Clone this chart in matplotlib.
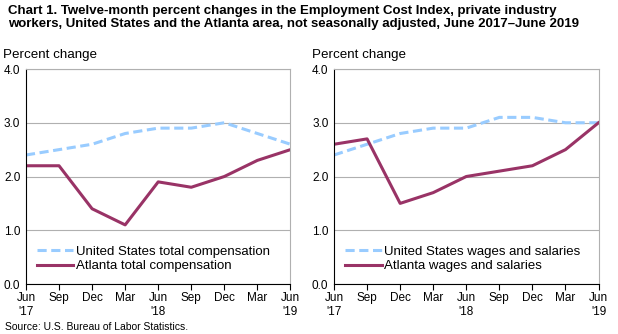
import matplotlib
matplotlib.use("Agg")
import matplotlib.pyplot as plt

plt.rcParams['font.family'] = ['Liberation Sans', 'DejaVu Sans']

quarters = ['Jun\n\'17', 'Sep', 'Dec', 'Mar', 'Jun\n\'18', 'Sep', 'Dec', 'Mar', 'Jun\n\'19']
us_total = [2.4, 2.5, 2.6, 2.8, 2.9, 2.9, 3.0, 2.8, 2.6]
atl_total = [2.2, 2.2, 1.4, 1.1, 1.9, 1.8, 2.0, 2.3, 2.5]
us_wages = [2.4, 2.6, 2.8, 2.9, 2.9, 3.1, 3.1, 3.0, 3.0]
atl_wages = [2.6, 2.7, 1.5, 1.7, 2.0, 2.1, 2.2, 2.5, 3.0]

blue = '#99ccff'
maroon = '#993366'

fig = plt.figure(figsize=(6.18, 3.34), dpi=100)
fig.text(0.013, 0.985, 'Chart 1. Twelve-month percent changes in the Employment Cost Index, private industry\n'
         'workers, United States and the Atlanta area, not seasonally adjusted, June 2017\u2013June 2019',
         fontsize=9.5, fontweight='bold', va='top', linespacing=1.15)

panels = [
    (0.042, us_total, atl_total, 'United States total compensation', 'Atlanta total compensation'),
    (0.5405, us_wages, atl_wages, 'United States wages and salaries', 'Atlanta wages and salaries'),
]
x = list(range(len(quarters)))
for left, us, atl, lab1, lab2 in panels:
    ax = fig.add_axes([left, 0.1497, 0.428, 0.6437])
    ax.plot(x, us, color=blue, lw=2.2, ls=(0, (3, 1.5)), label=lab1)
    ax.plot(x, atl, color=maroon, lw=2.2, label=lab2)
    ax.set_xlim(0, 8)
    ax.set_ylim(0, 4)
    ax.set_yticks([0, 1, 2, 3, 4])
    ax.set_yticklabels(['0.0', '1.0', '2.0', '3.0', '4.0'])
    ax.set_xticks(x)
    ax.set_xticklabels(quarters, fontsize=8.5)
    ax.tick_params(axis='y', length=0, labelsize=8.5, pad=4)
    ax.tick_params(axis='x', length=4, direction='out', pad=2)
    ax.grid(axis='y', color='#b0b0b0', lw=0.8)
    ax.set_axisbelow(True)
    for s in ['top', 'right']:
        ax.spines[s].set_color('#b0b0b0')
    for s in ['left', 'bottom']:
        ax.spines[s].set_color('black')
        ax.spines[s].set_linewidth(0.8)
    ax.text(-0.085, 1.035, 'Percent change', transform=ax.transAxes, fontsize=9.6, ha='left', va='bottom')
    ax.legend(loc='lower left', bbox_to_anchor=(0.02, 0.03), frameon=False, fontsize=9.5,
              handlelength=2.8, handletextpad=0.2, borderaxespad=0, labelspacing=0.15)

fig.text(0.008, 0.005, 'Source: U.S. Bureau of Labor Statistics.', fontsize=7.5, va='bottom')

fig.savefig('out.png', dpi=100)
